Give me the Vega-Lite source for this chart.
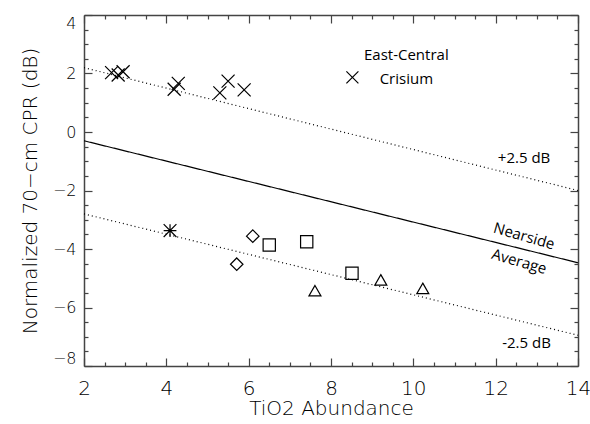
{
  "$schema": "https://vega.github.io/schema/vega-lite/v6.json",
  "width": 494,
  "height": 351,
  "autosize": "none",
  "padding": {"left": 84, "top": 15, "right": 12, "bottom": 58},
  "background": "white",
  "config": {"view": {"stroke": null}},
  "datasets": {
    "lines": [
      {"series": "avg", "tio2": 2, "cpr": -0.3},
      {"series": "avg", "tio2": 14, "cpr": -4.47},
      {"series": "plus", "tio2": 2, "cpr": 2.2},
      {"series": "plus", "tio2": 14, "cpr": -2.0},
      {"series": "minus", "tio2": 2, "cpr": -2.8},
      {"series": "minus", "tio2": 14, "cpr": -6.95}
    ],
    "points": [
      {"group": "Crisium", "tio2": 2.67, "cpr": 2.03},
      {"group": "Crisium", "tio2": 2.83, "cpr": 1.95},
      {"group": "Crisium", "tio2": 2.95, "cpr": 2.06},
      {"group": "Crisium", "tio2": 4.19, "cpr": 1.46},
      {"group": "Crisium", "tio2": 4.29, "cpr": 1.66},
      {"group": "Crisium", "tio2": 5.30, "cpr": 1.34},
      {"group": "Crisium", "tio2": 5.50, "cpr": 1.74},
      {"group": "Crisium", "tio2": 5.89, "cpr": 1.44},
      {"group": "star", "tio2": 4.09, "cpr": -3.37},
      {"group": "diamond", "tio2": 6.10, "cpr": -3.56},
      {"group": "diamond", "tio2": 5.71, "cpr": -4.52},
      {"group": "square", "tio2": 6.50, "cpr": -3.86},
      {"group": "square", "tio2": 7.41, "cpr": -3.75},
      {"group": "square", "tio2": 8.51, "cpr": -4.83},
      {"group": "triangle", "tio2": 7.61, "cpr": -5.43},
      {"group": "triangle", "tio2": 9.21, "cpr": -5.06},
      {"group": "triangle", "tio2": 10.23, "cpr": -5.35}
    ],
    "legendmark": [
      {"group": "Crisium", "tio2": 8.52, "cpr": 1.87}
    ],
    "labels": [
      {"tio2": 9.83, "cpr": 2.63, "text": "East-Central"},
      {"tio2": 9.83, "cpr": 1.81, "text": "Crisium"},
      {"tio2": 12.69, "cpr": -0.9, "text": "+2.5 dB"},
      {"tio2": 12.75, "cpr": -7.23, "text": "-2.5 dB"}
    ],
    "rotated": [
      {"tio2": 12.69, "cpr": -3.56, "text": "Nearside"},
      {"tio2": 12.57, "cpr": -4.43, "text": "Average"}
    ]
  },
  "layer": [
    {
      "data": {"name": "lines"},
      "mark": {"type": "line", "color": "black", "strokeWidth": 1.2},
      "encoding": {
        "x": {
          "field": "tio2", "type": "quantitative",
          "scale": {"domain": [2, 14], "nice": false, "zero": false},
          "axis": {
            "orient": "bottom",
            "title": "TiO2 Abundance",
            "titleFont": "DejaVu Sans", "titleFontWeight": 200, "titleFontSize": 20, "titleColor": "black",
            "titlePadding": 0,
            "values": [2, 4, 6, 8, 10, 12, 14],
            "format": "d",
            "labelFont": "DejaVu Sans", "labelFontWeight": 200, "labelFontSize": 20, "labelColor": "black",
            "labelFlush": false, "labelOverlap": false,
            "labelPadding": 20,
            "grid": false,
            "domainColor": "#444", "domainWidth": 1.5,
            "tickColor": "#444", "tickWidth": 1.2, "tickSize": -8
          }
        },
        "y": {
          "field": "cpr", "type": "quantitative",
          "scale": {"domain": [-8, 4], "nice": false, "zero": false},
          "axis": {
            "orient": "left",
            "title": "Normalized 70−cm CPR (dB)",
            "titleFont": "DejaVu Sans", "titleFontWeight": 200, "titleFontSize": 20, "titleColor": "black",
            "titlePadding": 12,
            "values": [-8, -6, -4, -2, 0, 2, 4],
            "labelExpr": "datum.value < 0 ? '−' + format(abs(datum.value), 'd') : format(datum.value, 'd')",
            "labelFont": "DejaVu Sans", "labelFontWeight": 200, "labelFontSize": 16, "labelColor": "black",
            "labelFlush": true, "labelOverlap": false,
            "labelPadding": 16,
            "grid": false,
            "domainColor": "#444", "domainWidth": 1.5,
            "tickColor": "#444", "tickWidth": 1.2, "tickSize": -8
          }
        },
        "detail": {"field": "series"},
        "strokeDash": {
          "field": "series", "type": "nominal",
          "scale": {"domain": ["avg", "plus", "minus"], "range": [[1, 0], [1, 3], [1, 3]]},
          "legend": null
        }
      }
    },
    {
      "data": {"name": "points"},
      "mark": {"type": "point", "filled": false, "color": "black", "strokeWidth": 1.2, "opacity": 1},
      "encoding": {
        "x": {
          "field": "tio2", "type": "quantitative",
          "axis": {
            "orient": "top", "title": null, "labels": false, "grid": false,
            "values": [2, 4, 6, 8, 10, 12, 14],
            "domainColor": "#444", "domainWidth": 1.5,
            "tickColor": "#444", "tickWidth": 1.2, "tickSize": -8
          }
        },
        "y": {
          "field": "cpr", "type": "quantitative",
          "axis": {
            "orient": "right", "title": null, "labels": false, "grid": false,
            "values": [-8, -6, -4, -2, 0, 2, 4],
            "domainColor": "#444", "domainWidth": 1.5,
            "tickColor": "#444", "tickWidth": 1.2, "tickSize": -8
          }
        },
        "shape": {
          "field": "group", "type": "nominal",
          "scale": {
            "domain": ["Crisium", "star", "diamond", "square", "triangle"],
            "range": [
              "M-1,-1L1,1M-1,1L1,-1",
              "M-1,-1L1,1M-1,1L1,-1M-1,0L1,0M0,-1L0,1",
              "M0,-1L1,0L0,1L-1,0Z",
              "M-1,-1L1,-1L1,1L-1,1Z",
              "M0,-0.9L1,0.85L-1,0.85Z"
            ]
          },
          "legend": null
        },
        "size": {
          "field": "group", "type": "nominal",
          "scale": {
            "domain": ["Crisium", "star", "diamond", "square", "triangle"],
            "range": [169, 144, 121, 144, 169]
          },
          "legend": null
        }
      }
    },
    {
      "data": {"name": "legendmark"},
      "mark": {"type": "point", "filled": false, "color": "black", "strokeWidth": 1.2, "opacity": 1, "shape": "M-1,-1L1,1M-1,1L1,-1", "size": 144},
      "encoding": {
        "x": {
          "field": "tio2", "type": "quantitative",
          "axis": {
            "orient": "bottom", "title": null, "labels": false, "grid": false, "domain": false,
            "values": [2.5, 3, 3.5, 4.5, 5, 5.5, 6.5, 7, 7.5, 8.5, 9, 9.5, 10.5, 11, 11.5, 12.5, 13, 13.5],
            "tickColor": "#444", "tickWidth": 1.2, "tickSize": -4
          }
        },
        "y": {
          "field": "cpr", "type": "quantitative",
          "axis": {
            "orient": "left", "title": null, "labels": false, "grid": false, "domain": false,
            "values": [-7.5, -7, -6.5, -5.5, -5, -4.5, -3.5, -3, -2.5, -1.5, -1, -0.5, 0.5, 1, 1.5, 2.5, 3, 3.5],
            "tickColor": "#444", "tickWidth": 1.2, "tickSize": -4
          }
        }
      }
    },
    {
      "data": {"name": "labels"},
      "mark": {"type": "text", "font": "Open Sans", "fontSize": 15, "color": "black", "align": "center", "baseline": "middle"},
      "encoding": {
        "x": {
          "field": "tio2", "type": "quantitative",
          "axis": {
            "orient": "top", "title": null, "labels": false, "grid": false, "domain": false,
            "values": [2.5, 3, 3.5, 4.5, 5, 5.5, 6.5, 7, 7.5, 8.5, 9, 9.5, 10.5, 11, 11.5, 12.5, 13, 13.5],
            "tickColor": "#444", "tickWidth": 1.2, "tickSize": -4
          }
        },
        "y": {
          "field": "cpr", "type": "quantitative",
          "axis": {
            "orient": "right", "title": null, "labels": false, "grid": false, "domain": false,
            "values": [-7.5, -7, -6.5, -5.5, -5, -4.5, -3.5, -3, -2.5, -1.5, -1, -0.5, 0.5, 1, 1.5, 2.5, 3, 3.5],
            "tickColor": "#444", "tickWidth": 1.2, "tickSize": -4
          }
        },
        "text": {"field": "text"}
      }
    },
    {
      "data": {"name": "rotated"},
      "mark": {"type": "text", "font": "Open Sans", "fontSize": 15, "color": "black", "align": "center", "baseline": "middle", "angle": 16},
      "encoding": {
        "x": {"field": "tio2", "type": "quantitative", "axis": null},
        "y": {"field": "cpr", "type": "quantitative", "axis": null},
        "text": {"field": "text"}
      }
    }
  ],
  "resolve": {"axis": {"x": "independent", "y": "independent"}}
}
